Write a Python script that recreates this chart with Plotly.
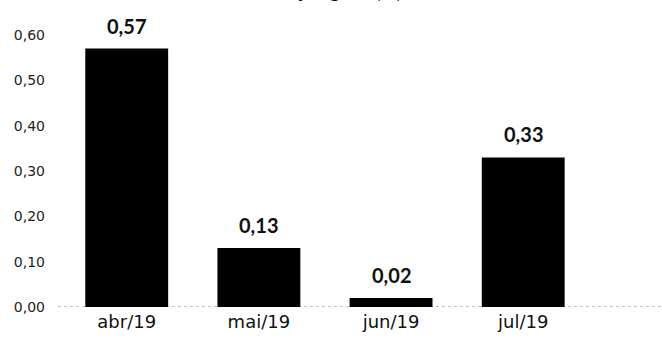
import plotly.graph_objects as go

# Monthly variation, apr–jul 2019
months = ["abr/19", "mai/19", "jun/19", "jul/19"]
values = [0.57, 0.13, 0.02, 0.33]
y_ticks = [0.0, 0.1, 0.2, 0.3, 0.4, 0.5, 0.6]
title_text = "Inflação geral (%)"

LABEL_FONT = "Lato, 'DejaVu Sans', sans-serif"
TICK_FONT = "'DejaVu Sans', sans-serif"

fig = go.Figure(
    go.Bar(
        x=months,
        y=values,
        marker=dict(color="#000000", line=dict(width=0)),
        hoverinfo="skip",
    )
)

# value labels above each bar
for m, v in zip(months, values):
    fig.add_annotation(
        x=m, y=v, text=f"{v:.2f}".replace(".", ","),
        showarrow=False, yanchor="bottom", yshift=9,
        font=dict(family=LABEL_FONT, size=20, color="#111111", weight="bold"),
    )

# chart title sitting at the very top edge
fig.add_annotation(
    xref="paper", yref="paper", x=0.45, y=1, yanchor="bottom", yshift=31,
    text=title_text, showarrow=False,
    font=dict(family=LABEL_FONT, size=19, color="#111111", weight="bold"),
)

# dotted baseline
fig.add_shape(
    type="line", xref="paper", yref="y", x0=0, x1=1, y0=0, y1=0,
    line=dict(color="#888888", width=1, dash="dot"), layer="below",
)

fig.update_layout(
    width=662, height=349,
    margin=dict(l=58, r=0, t=35, b=42),
    paper_bgcolor="white", plot_bgcolor="white",
    separators=",.",
    bargap=0.373,
    showlegend=False,
    font=dict(family=TICK_FONT, color="#111111"),
)
fig.update_xaxes(
    range=[-0.52, 4.05], showgrid=False, zeroline=False, showline=False,
    ticks="", ticklabelstandoff=2, tickfont=dict(family=TICK_FONT, size=18, color="#111111"),
)
fig.update_yaxes(
    range=[0, 0.6], tickvals=y_ticks, tickformat=".2f",
    showgrid=False, zeroline=False, showline=False, ticks="",
    ticklabelstandoff=12, tickfont=dict(family=TICK_FONT, size=14, color="#222222"),
)

fig.write_html("out.html")
